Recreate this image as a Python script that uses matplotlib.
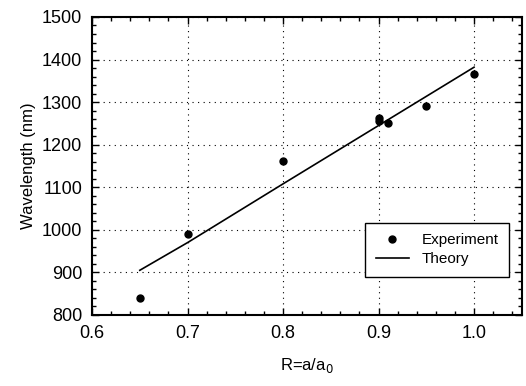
import matplotlib
matplotlib.use("Agg")
import matplotlib.pyplot as plt
from matplotlib.ticker import MultipleLocator

plt.rcParams["font.family"] = ["Liberation Sans", "DejaVu Sans"]

# experimental points
exp_r = [0.65, 0.70, 0.80, 0.90, 0.90, 0.91, 0.95, 1.00]
exp_wl = [840, 990, 1162, 1262, 1255, 1250, 1292, 1365]

# theory curve
th_r = [0.65, 0.70, 0.80, 0.90, 1.00]
th_wl = [905, 970, 1108, 1245, 1382]

fig = plt.figure(figsize=(5.26, 3.86), dpi=100)
ax = fig.add_axes([0.175, 0.184, 0.817, 0.772])

ax.plot(exp_r, exp_wl, "o", color="black", markersize=5, label="Experiment")
ax.plot(th_r, th_wl, "-", color="black", linewidth=1.2, label="Theory")

ax.set_xlim(0.6, 1.05)
ax.set_ylim(800, 1500)
ax.xaxis.set_major_locator(MultipleLocator(0.1))
ax.xaxis.set_minor_locator(MultipleLocator(0.02))
ax.yaxis.set_major_locator(MultipleLocator(100))
ax.yaxis.set_minor_locator(MultipleLocator(20))
ax.set_xticks([0.6, 0.7, 0.8, 0.9, 1.0])
ax.set_xticklabels(["0.6", "0.7", "0.8", "0.9", "1.0"])

ax.tick_params(which="both", direction="in", top=True, right=True,
               labelsize=13, width=1.0)
ax.tick_params(which="major", length=5, pad=7)
ax.tick_params(which="minor", length=3)
for s in ax.spines.values():
    s.set_linewidth(1.5)

ax.grid(True, which="major", linestyle=(0, (1, 4)), color="black", linewidth=0.8)

ax.set_xlabel(r"R=a/a$_0$", fontsize=12, labelpad=10)
ax.set_ylabel("Wavelength (nm)", fontsize=12, labelpad=4)

leg = ax.legend(loc="upper left", bbox_to_anchor=(0.635, 0.31), fontsize=11,
                fancybox=False, framealpha=1, edgecolor="black",
                borderaxespad=0, handlelength=2.2, borderpad=0.7,
                labelspacing=0.3)
leg.get_frame().set_linewidth(1.0)

fig.savefig("out.png", dpi=100)
